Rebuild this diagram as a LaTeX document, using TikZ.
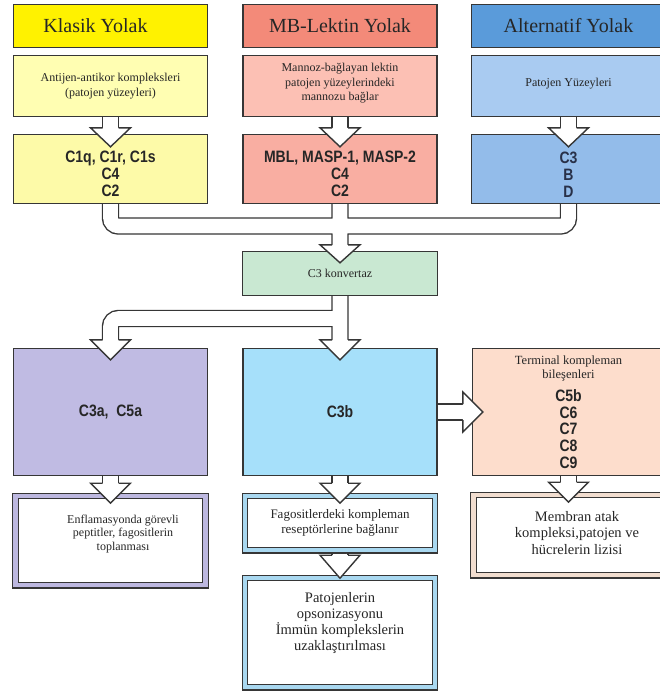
\documentclass[tikz,border=0pt]{standalone}
\usepackage{fontspec}
\setmainfont{Liberation Serif}
\newfontfamily\condsans[FakeStretch=0.85]{Liberation Sans}
\usetikzlibrary{calc}
\definecolor{linec}{HTML}{363636}
\definecolor{txtc}{HTML}{262626}
\definecolor{altxt}{HTML}{283048}
\definecolor{klhead}{HTML}{FFF200}
\definecolor{kllight}{HTML}{FFFEB2}
\definecolor{klmid}{HTML}{FDFAA8}
\definecolor{mbhead}{HTML}{F38A79}
\definecolor{mblight}{HTML}{FCC0B4}
\definecolor{mbmid}{HTML}{F9AEA2}
\definecolor{alhead}{HTML}{5A9BDA}
\definecolor{allight}{HTML}{A9CBF1}
\definecolor{almid}{HTML}{93BCEA}
\definecolor{convgreen}{HTML}{C9E8D2}
\definecolor{lavender}{HTML}{C0BBE3}
\definecolor{skyblue}{HTML}{A6E0FA}
\definecolor{peach}{HTML}{FDDDCC}
\definecolor{lavframe}{HTML}{BDB8E0}
\definecolor{skyframe}{HTML}{A9D8F0}
\definecolor{peachframe}{HTML}{F1DDCF}
\tikzset{
  box/.style={rectangle, draw=linec, line width=1.4pt, text=txtc, align=center, inner sep=2pt, minimum width=194pt},
  headbox/.style={box, minimum height=43pt, font=\fontsize{20}{24}\selectfont},
  srcbox/.style={box, minimum height=61pt, font=\fontsize{12}{14.5}\selectfont},
  compbox/.style={box, minimum height=69pt, font=\condsans\bfseries\fontsize{16.5}{17}\selectfont},
  resbox/.style={box, minimum height=127pt, font=\condsans\bfseries\fontsize{16.5}{16.7}\selectfont},
  framebox/.style={rectangle, draw=linec, line width=1.2pt, double=#1, double distance=4.2pt, fill=white, text=txtc, align=center, inner sep=2pt, minimum width=190pt},
  freetext/.style={text=txtc, align=center, inner sep=0pt},
  pipe/.style={draw=white, line width=14.6pt, rounded corners=8pt, preaction={draw=linec, line width=17.4pt}},
  blockhead/.style={fill=white, draw=linec, line width=1.4pt, line join=miter}
}
\newcommand{\topstrut}{\rule{0pt}{22pt}}
\newcommand{\headdown}[3]{%
  \filldraw[blockhead] ([xshift=-8pt,yshift=#2pt]#1.north) -- ++(-12pt,0pt) -- ([yshift=-#3pt]#1.north) -- ([xshift=20pt,yshift=#2pt]#1.north) -- ++(-12pt,0pt);}

\begin{document}
\begin{tikzpicture}[x=1pt,y=-1pt]
\useasboundingbox (0,0) rectangle (660,691);

% the three pathways
\node[headbox, fill=klhead] (kl1) at (110.5,26) {Klasik Yolak\hspace*{30pt}};
\node[headbox, fill=mbhead] (mb1) at (340,26) {MB-Lektin Yolak};
\node[headbox, fill=alhead] (al1) at (568.5,26) {Alternatif Yolak};

\node[srcbox, fill=kllight] (kl2) at (110.5,86) {Antijen-antikor kompleksleri\\(patojen yüzeyleri)};
\node[srcbox, fill=mblight] (mb2) at (340,86) {Mannoz-bağlayan lektin\\patojen yüzeylerindeki\\mannozu bağlar\rule[-8pt]{0pt}{8pt}};
\node[srcbox, fill=allight] (al2) at (568.5,86) {Patojen Yüzeyleri\rule[-8pt]{0pt}{8pt}};

\node[compbox, fill=klmid] (kl3) at (110.5,169) {\topstrut C1q, C1r, C1s\\C4\\C2};
\node[compbox, fill=mbmid] (mb3) at (340,169) {\topstrut MBL, MASP-1, MASP-2\\C4\\C2};
\node[compbox, fill=almid, text=altxt] (al3) at (568.5,169) {\topstrut C3\\B\\D};

\node[box, fill=convgreen, minimum width=195pt, minimum height=44pt, font=\fontsize{12}{14}\selectfont] (cv) at (340,273.5) {C3 konvertaz};

% products
\node[resbox, fill=lavender] (c3a) at (110.5,412) {C3a,~ C5a};
\node[resbox, fill=skyblue] (c3b) at (340,412) {C3b};
\node[resbox, fill=peach, minimum width=192pt] (term) at (568.5,412) {{\rmfamily\mdseries\fontsize{12.5}{15}\selectfont Terminal kompleman}\\[-2pt]{\rmfamily\mdseries\fontsize{12.5}{15}\selectfont bileşenleri}\\[6pt]C5b\\C6\\C7\\C8\\C9};

% effects
\node[framebox=lavframe, minimum height=89.4pt] (enf) at (110.5,540.5) {};
\node[freetext, font=\fontsize{12}{13.5}\selectfont] (enftxt) at (123,534) {Enflamasyonda görevli\\peptitler, fagositlerin\\toplanması};
\node[framebox=skyframe, minimum height=54.4pt, font=\fontsize{13}{15}\selectfont] (fag) at (340,523) {Fagositlerdeki kompleman\\reseptörlerine bağlanır};
\node[framebox=skyframe, minimum height=109.4pt] (ops) at (340,632.5) {};
\node[freetext, font=\fontsize{14.5}{16}\selectfont] (opstxt) at (340,623) {Patojenlerin\\opsonizasyonu\\İmmün komplekslerin\\uzaklaştırılması};
\node[framebox=peachframe, minimum height=80.4pt] (mac) at (568.5,535) {};
\node[freetext, font=\fontsize{14.5}{16.5}\selectfont] (mactxt) at (577,533) {Membran atak\\kompleksi,patojen ve\\hücrelerin lizisi};

\coordinate (merge) at (340,226);
\coordinate (split) at (340,318.5);

% hollow connectors
\draw[pipe] (kl2.south) -- ([yshift=6pt]kl3.north) (mb2.south) -- ([yshift=6pt]mb3.north) (al2.south) -- ([yshift=6pt]al3.north);
\draw[pipe] (kl3.south) |- (merge) -| (al3.south) (mb3.south) -- ([yshift=6pt]cv.north);
\draw[pipe] (cv.south) -- ([yshift=8pt]c3b.north) (split) -| ([yshift=8pt]c3a.north);
\draw[pipe] (c3b.east) -- ([xshift=-9pt]term.west);
\draw[pipe] (c3a.south) -- ([yshift=12pt]enf.north) (c3b.south) -- ([yshift=12pt]fag.north) (term.south) -- ([yshift=12pt]mac.north) ([yshift=-2.7pt]fag.south) -- ([yshift=22pt]ops.north);

\headdown{kl3}{6}{13}
\headdown{mb3}{6}{13}
\headdown{al3}{6}{13}
\headdown{cv}{6}{12}
\headdown{c3a}{8}{12}
\headdown{c3b}{8}{12}
\headdown{enf}{12}{8}
\headdown{fag}{12}{8}
\headdown{mac}{12}{8}
\headdown{ops}{22}{1}
\filldraw[blockhead] ([xshift=-9pt,yshift=8pt]term.west) -- ++(0pt,12pt) -- ([xshift=11pt]term.west) -- ([xshift=-9pt,yshift=-20pt]term.west) -- ++(0pt,12pt);
\end{tikzpicture}
\end{document}
